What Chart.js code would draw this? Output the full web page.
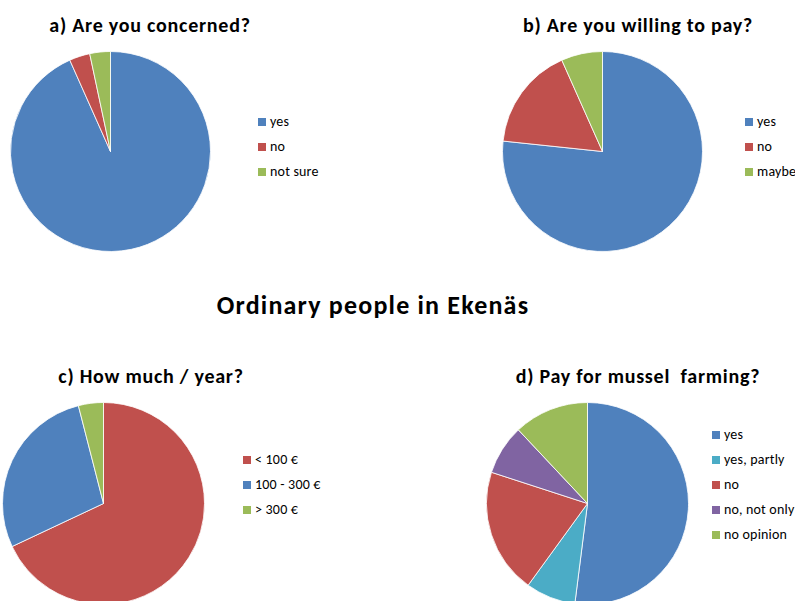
<!DOCTYPE html>
<html>
<head>
<meta charset="utf-8">
<title>Ordinary people in Ekenäs</title>
<script src="https://cdn.jsdelivr.net/npm/chart.js@4/dist/chart.umd.min.js"></script>
<style>
  html, body { margin: 0; padding: 0; background: #fff; }
  body { width: 795px; height: 601px; overflow: hidden; position: relative;
         font-family: Carlito, Calibri, Lato, "Open Sans", sans-serif; color: #000; }
  .pie { position: absolute; }
  .ttl { position: absolute; font-weight: bold; font-size: 20px; letter-spacing: 0.75px; white-space: pre;
         transform: translateX(-50%); line-height: 1; }
  .main { font-size: 26px; letter-spacing: 1.2px; }
  .lg { position: absolute; list-style: none; margin: 0; padding: 0; font-size: 14px; letter-spacing: 0.2px; }
  .lg li { position: absolute; left: 0; white-space: nowrap; height: 16px; line-height: 16px; }
  .lg i { display: inline-block; width: 8px; height: 8px; margin-right: 4px; }
</style>
</head>
<body>
<div class="ttl" style="left:150px;top:15px">a) Are you concerned?</div>
<div class="ttl" style="left:638px;top:15px">b) Are you willing to pay?</div>
<div class="ttl main" style="left:373px;top:292px">Ordinary people in Ekenäs</div>
<div class="ttl" style="left:151px;top:366px">c) How much / year?</div>
<div class="ttl" style="left:638px;top:366px">d) Pay for mussel  farming?</div>

<canvas id="pa" class="pie"></canvas>
<canvas id="pb" class="pie"></canvas>
<canvas id="pc" class="pie"></canvas>
<canvas id="pd" class="pie"></canvas>

<ul id="la" class="lg"></ul>
<ul id="lb" class="lg"></ul>
<ul id="lc" class="lg"></ul>
<ul id="ld" class="lg"></ul>

<script>
// office palette
const BLUE = "#4F81BD", RED = "#C0504D", GREEN = "#9BBB59", PURPLE = "#8064A2", TEAL = "#4BACC6";

// a) Are you concerned?
const concernedLabels = ["yes", "no", "not sure"];
const concernedValues = [28, 1, 1];
const concernedColors = [BLUE, RED, GREEN];

// b) Are you willing to pay?
const payLabels = ["yes", "no", "maybe"];
const payValues = [23, 5, 2];
const payColors = [BLUE, RED, GREEN];

// c) How much / year?
const amountLabels = ["< 100 €", "100 - 300 €", "> 300 €"];
const amountValues = [17, 7, 1];
const amountColors = [RED, BLUE, GREEN];

// d) Pay for mussel farming?
const musselLabels = ["yes", "yes, partly", "no", "no, not only", "no opinion"];
const musselValues = [13, 2, 5, 2, 3];
const musselColors = [BLUE, TEAL, RED, PURPLE, GREEN];

const $ = (s) => document.querySelector(s);

function pie(id, labels, values, colors, box) {
  const cv = $(id);
  cv.style.left = box.x + "px"; cv.style.top = box.y + "px";
  cv.style.width = box.size + "px"; cv.style.height = box.size + "px";
  cv.width = box.size; cv.height = box.size;
  return new Chart(cv, {
    type: "pie",
    data: { labels, datasets: [{ data: values, backgroundColor: colors,
      borderColor: "rgba(255,255,255,0.8)", borderWidth: 1 }] },
    options: { responsive: false, animation: false, events: [],
      layout: { padding: 0 },
      plugins: { legend: { display: false }, tooltip: { enabled: false } } },
  });
}

function legend(id, labels, colors, pos) {
  const ul = $(id);
  ul.style.left = pos.x + "px"; ul.style.top = pos.y + "px";
  ul.innerHTML = labels.map((l, i) =>
    `<li style="top:${i * pos.step - 8}px"><i style="background:${colors[i]}"></i>${l}</li>`).join("");
}

pie("#pa", concernedLabels, concernedValues, concernedColors, { x: 10, y: 51, size: 201 });
pie("#pb", payLabels, payValues, payColors, { x: 502, y: 51, size: 201 });
pie("#pc", amountLabels, amountValues, amountColors, { x: 2, y: 402, size: 203 });
pie("#pd", musselLabels, musselValues, musselColors, { x: 486, y: 402, size: 203 });

legend("#la", concernedLabels, concernedColors, { x: 258, y: 122, step: 25 });
legend("#lb", payLabels, payColors, { x: 745, y: 122, step: 25 });
legend("#lc", amountLabels, amountColors, { x: 243, y: 460, step: 25 });
legend("#ld", musselLabels, musselColors, { x: 712, y: 434.5, step: 25.2 });
</script>
</body>
</html>
